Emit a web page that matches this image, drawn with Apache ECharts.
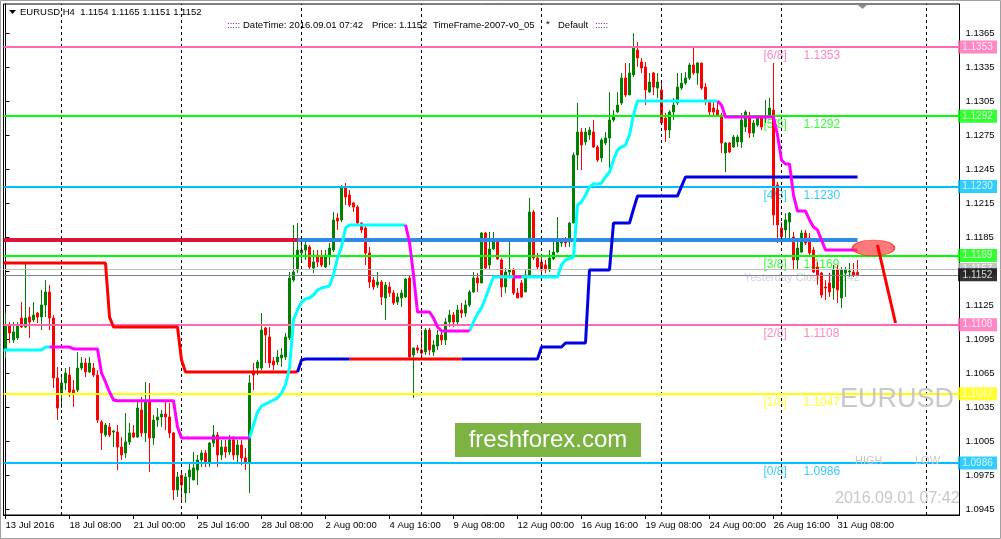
<!DOCTYPE html>
<html><head><meta charset="utf-8">
<script src="https://cdn.jsdelivr.net/npm/echarts@6/dist/echarts.min.js"></script>
<style>html,body{margin:0;padding:0;background:#fff}#c{width:1001px;height:539px}</style>
</head><body><div id="c"></div><script>
// ---------- DATA ----------
const BAR_COUNT = 239; // visible bar slots (incl. empty future area)
const timeLabels = ['13 Jul 2016','18 Jul 08:00','21 Jul 00:00','25 Jul 16:00','28 Jul 08:00','2 Aug 00:00','4 Aug 16:00','9 Aug 08:00','12 Aug 00:00','16 Aug 16:00','19 Aug 08:00','24 Aug 00:00','26 Aug 16:00','31 Aug 08:00'];
const TIME_LABEL_STEP = 16;
const priceTicks = [1.0945,1.0975,1.1005,1.1035,1.1065,1.1095,1.1125,1.1155,1.1185,1.1215,1.1245,1.1275,1.1305,1.1335,1.1365];
const weekSeparators = [14,44,74,104,134,164,194,230.25];

// candles: [open, close, low, high]
const candles = [
[1.10857,1.11077,1.10786,1.11183],[1.11069,1.11007,1.10919,1.11104],[1.10945,1.11016,1.10919,1.11104],[1.10963,1.11077,1.10945,1.11104],
[1.11139,1.11060,1.11051,1.11280],[1.11060,1.11139,1.11051,1.11624],[1.11148,1.11104,1.10963,1.11236],[1.11122,1.11166,1.11104,1.11280],
[1.11183,1.11148,1.11095,1.11192],[1.11148,1.11254,1.11033,1.11386],[1.11254,1.11369,1.11148,1.11474],[1.11369,1.11139,1.11033,1.11430],
[1.11139,1.10610,1.10522,1.11166],[1.10610,1.10345,1.10239,1.10707],[1.10478,1.10566,1.10345,1.10619],[1.10566,1.10654,1.10504,1.10698],
[1.10636,1.10486,1.10442,1.10707],[1.10504,1.10478,1.10354,1.10592],[1.10504,1.10698,1.10486,1.10839],[1.10698,1.10742,1.10680,1.10795],
[1.10742,1.10663,1.10619,1.10786],[1.10663,1.10742,1.10654,1.10795],[1.10698,1.10636,1.10619,1.10742],[1.10636,1.10239,1.10213,1.10680],
[1.10222,1.10125,1.09975,1.10239],[1.10107,1.10195,1.10089,1.10213],[1.10178,1.10107,1.10089,1.10213],[1.10133,1.10142,1.10001,1.10151],
[1.10133,1.10001,1.09798,1.10195],[1.10001,1.09931,1.09887,1.10089],[1.09948,1.10045,1.09904,1.10301],[1.10045,1.10125,1.10019,1.10213],
[1.10125,1.10089,1.10081,1.10195],[1.10089,1.10345,1.10081,1.10398],[1.10328,1.10125,1.10089,1.10442],[1.10125,1.10398,1.10045,1.10575],
[1.10398,1.10081,1.09781,1.10566],[1.10081,1.10239,1.10019,1.10283],[1.10239,1.10266,1.10178,1.10345],[1.10266,1.10292,1.10178,1.10328],
[1.10292,1.10266,1.10151,1.10416],[1.10266,1.10125,1.10081,1.10389],[1.10125,1.09622,1.09534,1.10133],[1.09622,1.09737,1.09560,1.09781],
[1.09754,1.09666,1.09534,1.09772],[1.09595,1.09737,1.09507,1.09772],[1.09737,1.09798,1.09595,1.09860],[1.09710,1.09816,1.09710,1.09957],
[1.09798,1.09887,1.09666,1.09931],[1.09887,1.09948,1.09825,1.09975],[1.09948,1.09860,1.09825,1.09975],[1.09860,1.10036,1.09825,1.10045],
[1.10036,1.10107,1.10001,1.10195],[1.10107,1.09931,1.09825,1.10133],[1.09931,1.10001,1.09887,1.10063],[1.10001,1.09957,1.09904,1.10063],
[1.09957,1.10063,1.09931,1.10107],[1.10063,1.09931,1.09887,1.10098],[1.09931,1.10019,1.09869,1.10063],[1.10019,1.09904,1.09842,1.10063],
[1.09904,1.09869,1.09798,1.09992],[1.09869,1.10566,1.09595,1.10636],[1.10663,1.10636,1.10504,1.10742],[1.10698,1.10751,1.10636,1.10769],
[1.10698,1.11033,1.10680,1.11183],[1.11051,1.10989,1.10742,1.11060],[1.10972,1.10742,1.10698,1.11060],[1.10760,1.10725,1.10680,1.10795],
[1.10751,1.10795,1.10725,1.10857],[1.10786,1.10813,1.10707,1.10875],[1.10795,1.10972,1.10769,1.11007],[1.10963,1.11492,1.10945,1.11545],
[1.11474,1.11545,1.11457,1.11960],[1.11563,1.11739,1.11536,1.11977],[1.11713,1.11739,1.11651,1.11827],[1.11739,1.11783,1.11651,1.11827],
[1.11766,1.11589,1.11563,1.11783],[1.11580,1.11633,1.11536,1.11739],[1.11695,1.11633,1.11589,1.11739],[1.11677,1.11607,1.11589,1.11739],
[1.11589,1.11695,1.11580,1.11739],[1.11695,1.11757,1.11607,1.11801],[1.11739,1.12004,1.11721,1.12074],[1.12021,1.11995,1.11916,1.12065],
[1.12004,1.12286,1.11986,1.12313],[1.12286,1.12207,1.12136,1.12330],[1.12224,1.12136,1.12118,1.12268],[1.12154,1.12118,1.12074,1.12163],
[1.12118,1.11977,1.11960,1.12136],[1.11977,1.11916,1.11889,1.11986],[1.11933,1.11713,1.11607,1.11960],[1.11713,1.11457,1.11404,1.11766],
[1.11474,1.11413,1.11386,1.11501],[1.11430,1.11457,1.11404,1.11545],[1.11457,1.11325,1.11254,1.11474],[1.11316,1.11430,1.11122,1.11457],
[1.11413,1.11360,1.11325,1.11457],[1.11360,1.11272,1.11254,1.11386],[1.11280,1.11325,1.11254,1.11360],[1.11316,1.11360,1.11236,1.11386],
[1.11325,1.11483,1.11316,1.11492],[1.11492,1.10795,1.10786,1.11519],[1.10813,1.10875,1.10433,1.10875],[1.10875,1.10857,1.10830,1.10901],
[1.10857,1.10830,1.10795,1.11033],[1.10839,1.11033,1.10813,1.11051],[1.11033,1.10857,1.10813,1.11051],[1.10839,1.10901,1.10804,1.10945],
[1.10892,1.10989,1.10857,1.11033],[1.10989,1.10945,1.10901,1.11033],[1.10945,1.11104,1.10901,1.11139],[1.11104,1.11166,1.11060,1.11210],
[1.11166,1.11104,1.11060,1.11192],[1.11104,1.11210,1.11077,1.11254],[1.11210,1.11183,1.11139,1.11272],[1.11183,1.11254,1.11148,1.11298],
[1.11254,1.11369,1.11236,1.11386],[1.11369,1.11492,1.11360,1.11545],[1.11492,1.11448,1.11369,1.11536],[1.11448,1.11889,1.11448,1.11898],
[1.11889,1.11580,1.11563,1.11898],[1.11607,1.11748,1.11563,1.11898],[1.11748,1.11827,1.11739,1.11898],[1.11810,1.11660,1.11651,1.11827],
[1.11651,1.11413,1.11325,1.11669],[1.11413,1.11545,1.11360,1.11580],[1.11545,1.11563,1.11501,1.11810],[1.11563,1.11360,1.11342,1.11580],
[1.11360,1.11316,1.11316,1.11404],[1.11448,1.11325,1.11316,1.11474],[1.11369,1.11519,1.11369,1.11563],[1.11519,1.12074,1.11501,1.12198],
[1.12074,1.11669,1.11651,1.12092],[1.11669,1.11589,1.11563,1.11713],[1.11633,1.11563,1.11536,1.11677],[1.11607,1.11563,1.11536,1.11651],
[1.11563,1.11669,1.11545,1.11739],[1.11660,1.11721,1.11651,1.11845],[1.11721,1.11810,1.11713,1.12030],[1.11801,1.11827,1.11766,1.11845],
[1.11819,1.11801,1.11766,1.11854],[1.11810,1.11977,1.11766,1.11986],[1.11977,1.12577,1.11977,1.12600],[1.12577,1.12780,1.12445,1.13037],
[1.12780,1.12665,1.12445,1.12815],[1.12692,1.12780,1.12665,1.12815],[1.12754,1.12798,1.12710,1.12824],[1.12780,1.12648,1.12639,1.12886],
[1.12648,1.12533,1.12515,1.12665],[1.12551,1.12710,1.12515,1.12727],[1.12683,1.12727,1.12665,1.12780],[1.12727,1.12886,1.12445,1.13131],
[1.12886,1.12930,1.12868,1.12974],[1.12957,1.13018,1.12948,1.13131],[1.13036,1.13256,1.13018,1.13301],[1.13256,1.13107,1.13089,1.13389],
[1.13107,1.13301,1.13107,1.13389],[1.13283,1.13521,1.13265,1.13653],[1.13503,1.13433,1.13354,1.13574],[1.13398,1.13345,1.13301,1.13433],
[1.13354,1.13151,1.13018,1.13398],[1.13133,1.13221,1.13124,1.13301],[1.13301,1.13177,1.13107,1.13309],[1.13168,1.13221,1.13080,1.13301],
[1.13151,1.12860,1.12842,1.13212],[1.12904,1.12798,1.12692,1.12948],[1.12798,1.12957,1.12727,1.12974],[1.12957,1.13018,1.12886,1.13080],
[1.13036,1.13177,1.13018,1.13301],[1.13168,1.13212,1.13151,1.13301],[1.13212,1.13256,1.13195,1.13309],[1.13256,1.13371,1.13239,1.13389],
[1.13371,1.13301,1.13283,1.13530],[1.13301,1.13389,1.13195,1.13398],[1.13389,1.13168,1.13151,1.13389],[1.13177,1.13045,1.13018,1.13212],
[1.13045,1.12957,1.12930,1.13062],[1.12992,1.12957,1.12930,1.13045],[1.12974,1.12930,1.12912,1.13036],[1.12930,1.12683,1.12595,1.12948],
[1.12595,1.12683,1.12427,1.12692],[1.12683,1.12604,1.12595,1.12692],[1.12648,1.12736,1.12639,1.12754],[1.12692,1.12736,1.12648,1.12754],
[1.12692,1.12886,1.12639,1.12948],[1.12824,1.12957,1.12780,1.12974],[1.12904,1.12771,1.12727,1.12957],[1.12771,1.12860,1.12736,1.12886],
[1.12842,1.12912,1.12824,1.12930],[1.12912,1.12824,1.12798,1.12930],[1.12904,1.12912,1.12860,1.13062],[1.12912,1.12992,1.12904,1.13080],
[1.12974,1.12048,1.11960,1.13389],[1.12313,1.11960,1.11801,1.12339],[1.11933,1.11854,1.11801,1.11986],[1.11916,1.12004,1.11845,1.12065],
[1.11986,1.12065,1.11827,1.12074],[1.11854,1.11651,1.11563,1.11898],[1.11651,1.11757,1.11563,1.11827],[1.11721,1.11889,1.11713,1.11916],
[1.11889,1.11801,1.11783,1.11916],[1.11845,1.11713,1.11677,1.11889],[1.11739,1.11545,1.11536,1.11766],[1.11589,1.11519,1.11430,1.11633],
[1.11536,1.11342,1.11316,1.11545],[1.11413,1.11404,1.11298,1.11474],[1.11448,1.11369,1.11325,1.11536],[1.11404,1.11563,1.11298,1.11607],
[1.11563,1.11386,1.11272,1.11607],[1.11316,1.11563,1.11227,1.11589],[1.11536,1.11563,1.11325,1.11589],[1.11545,1.11554,1.11501,1.11624],
[1.11545,1.11519,1.11501,1.11624],[1.1154,1.1152,1.1151,1.1165]
];

// Murrey math levels
const levelNames  = ['[6/8]','[5/8]','[4/8]','[3/8]','[2/8]','[1/8]','[0/8]'];
const levelPrices = [1.1353,1.1292,1.1230,1.1169,1.1108,1.1047,1.0986];
const levelLabelBar = 189.5;
const prevHighPrice = 1.1157;   // silver line
const currentPrice  = 1.1152;   // bid line
const yesterdayClose = 1.1142;
const yesterdayLabelPos = [213.5, 1.11492];

// trend level line (crimson -> dodger blue)
const trendLevelRed  = [[-0.5,1.11827],[73,1.11827]];
const trendLevelBlue = [[73,1.11827],[213,1.11827]];

// slow step line segments
const slowRed = [
  [[-0.5,1.11624],[25,1.11624],[26,1.11148],[27,1.11060],[43,1.11060],[44,1.10769],[45,1.10663],[73,1.10663]],
  [[86,1.10777],[114,1.10777]]
];
const slowBlue = [
  [[73,1.10663],[74,1.10769],[75,1.10777],[86,1.10777]],
  [[114,1.10777],[133,1.10777],[134,1.10883],[139,1.10883],[140,1.10919],[145,1.10919],[146,1.11563],[151,1.11563],[152,1.11977],[156,1.11977],[157,1.12100],[158,1.12216],[168,1.12216],[169,1.12300],[170,1.12383],[213,1.12383]]
];
// fast trailing line segments
const fastCyan = [
  [[-0.5,1.10857],[9,1.10857],[10,1.10883],[11,1.10883]],
  [[61,1.10081],[62,1.10195],[63,1.10310],[64,1.10363],[65,1.10380],[66,1.10398],[67,1.10416],[68,1.10433],[69,1.10478],[70,1.10548],[71,1.10698],[72,1.11122],[73,1.11210],[74,1.11280],[75,1.11307],[76,1.11316],[77,1.11342],[78,1.11386],[79,1.11404],[80,1.11413],[81,1.11421],[82,1.11519],[83,1.11669],[84,1.11766],[85,1.11933],[86,1.11960],[100,1.11960]],
  [[116,1.11025],[117,1.11104],[118,1.11175],[119,1.11227],[120,1.11316],[121,1.11413],[122,1.11501],[127,1.11501]],
  [[129,1.11501],[138,1.11501],[139,1.11607],[140,1.11651],[142,1.11677],[143,1.12136],[144,1.12163],[145,1.12224],[146,1.12295],[147,1.12321],[148,1.12321],[149,1.12330],[150,1.12383],[151,1.12427],[152,1.12533],[153,1.12621],[154,1.12648],[155,1.12665],[156,1.12754],[157,1.12930],[158,1.13054],[178,1.13054]]
];
const fastMagenta = [
  [[11,1.10883],[16,1.10883],[17,1.10866],[23,1.10866],[24,1.10654],[25,1.10575],[26,1.10486],[27,1.10416],[28,1.10410],[42,1.10410],[43,1.10178],[44,1.10081],[61,1.10081]],
  [[100,1.11960],[101,1.11810],[102,1.11519],[103,1.11192],[106,1.11192],[107,1.11139],[108,1.11060],[109,1.11025],[116,1.11025]],
  [[127,1.11501],[129,1.11501]],
  [[178,1.13054],[179,1.13018],[180,1.12912],[192,1.12912],[193,1.12754],[194,1.12533],[195,1.12498],[196,1.12498],[197,1.12224],[198,1.12083],[200,1.12083],[201,1.12004],[202,1.11942],[203,1.11916],[204,1.11827],[205,1.11739],[213,1.11739]]
];
// drawn objects: ellipse and forecast line
const ellipsePoint = [217, 1.11757];
const forecastLine = [[218, 1.11783],[222.5, 1.11095]];

// ---------- STYLE ----------
const FONT = 'Liberation Sans, Arial, sans-serif';
const levelColors = ['#ff69b4','#00ff00','#00bfff','#00ff00','#ff69b4','#ffff00','#00bfff'];
const Y_MIN = 1.094012, Y_MAX = 1.139094;
const RIGHT_EDGE = BAR_COUNT - 0.5;

const chart = echarts.init(document.getElementById('c'), null, {renderer:'canvas'});

const isLabelIdx = i => i % TIME_LABEL_STEP === 0 && (i / TIME_LABEL_STEP) < timeLabels.length;

function lineSeries(data, color, width, z){
  return {type:'line', xAxisIndex:1, yAxisIndex:0, data, symbol:'none', silent:true, z,
    lineStyle:{color, width}, itemStyle:{color}, animation:false};
}
function hLine(price, color, width, z){
  return {type:'line', xAxisIndex:1, data:[], z, silent:true,
    markLine:{silent:true, symbol:['none','none'], animation:false, precision:5, label:{show:false},
      lineStyle:{type:'solid', color, width}, data:[{yAxis:price}]}};
}
// price tags: rect symbol placed just right of the plot edge, value text inside
function priceTag(price, bg, z){
  return {type:'scatter', xAxisIndex:1, z, silent:true, clip:false,
    data:[[RIGHT_EDGE, price]], symbol:'rect', symbolSize:[39,13], symbolOffset:[18,0],
    itemStyle:{color:bg},
    label:{show:true, position:'inside', color:'#fff', fontSize:10, fontFamily:FONT,
      formatter: () => price.toFixed(4)}};
}

const series = [];
// weekly separators
series.push({type:'line', xAxisIndex:1, data:[], z:1, silent:true,
  markLine:{silent:true, symbol:['none','none'], animation:false, precision:3, label:{show:false},
    lineStyle:{color:'#000', type:[3,3], width:1},
    data: weekSeparators.map(v=>({xAxis:v}))}});
// level text labels
series.push({type:'scatter', xAxisIndex:1, z:2, silent:true, symbolSize:0,
  data: levelPrices.map((p,i)=>({value:[levelLabelBar,p],
    label:{color:levelColors[i], rich:{a:{color:levelColors[i]}, b:{color:levelColors[i]}}}})),
  label:{show:true, position:'right', distance:0, offset:[0,9],
    formatter: p => '{a|' + levelNames[p.dataIndex] + '}{b|' + levelPrices[p.dataIndex].toFixed(4) + '}',
    rich:{a:{width:40, fontSize:12, fontFamily:FONT}, b:{fontSize:12, fontFamily:FONT}}},
  itemStyle:{color:'transparent'}});
// yesterday close text
series.push({type:'scatter', xAxisIndex:1, z:2, silent:true, symbolSize:0,
  data:[yesterdayLabelPos],
  label:{show:true, position:'left', distance:0, color:'#c4c4c4', fontSize:11, fontFamily:FONT,
    formatter:'Yesterday Close ' + yesterdayClose.toFixed(4)}});
// candles
series.push({type:'candlestick', xAxisIndex:0, yAxisIndex:0, data:candles, barWidth:2, z:3, silent:true,
  itemStyle:{color:'#008000', color0:'#ff0000', borderColor:'#008000', borderColor0:'#ff0000', borderWidth:1}});
// horizontal lines
levelPrices.forEach((p,i)=>series.push(hLine(p, levelColors[i], 2, 4)));
series.push(hLine(prevHighPrice, '#c0c0c0', 1, 4));
series.push(hLine(currentPrice, '#778899', 1, 4));
// trend level
series.push(lineSeries(trendLevelRed, '#dc143c', 4, 4));
series.push(lineSeries(trendLevelBlue, '#2e8ae6', 4, 4));
slowRed.forEach(s=>series.push(lineSeries(s,'#ff0000',3,5)));
slowBlue.forEach(s=>series.push(lineSeries(s,'#0000e6',3,5)));
fastCyan.forEach(s=>series.push(lineSeries(s,'#00ffff',3,5)));
fastMagenta.forEach(s=>series.push(lineSeries(s,'#ff00ff',3,5)));
// ellipse + forecast
series.push({type:'scatter', xAxisIndex:1, z:6, silent:true, data:[ellipsePoint], symbol:'circle', symbolSize:[42,16],
  itemStyle:{color:'rgba(255,60,60,0.85)', borderColor:'#ff2020', borderWidth:1}});
series.push(lineSeries(forecastLine, '#ff0000', 3, 7));
// price tags on the right axis
levelPrices.forEach((p,i)=>series.push(priceTag(p, levelColors[i], 8)));
series.push(priceTag(prevHighPrice, '#b8b8b8', 8));
series.push(priceTag(currentPrice, '#000000', 9));

const txt = (x,y,text,opt={}) => ({type:'text', x, y, silent:true, z:100,
  style:Object.assign({text, fill:'#000', font:'9.5px ' + FONT, textVerticalAlign:'middle'}, opt)});

const option = {
  animation:false,
  backgroundColor:'#ffffff',
  grid:{left:3.5, top:4, right:41.5, bottom:24, show:true, borderColor:'#000', borderWidth:1, backgroundColor:'#fff'},
  xAxis:[
    {type:'category', data:Array.from({length:BAR_COUNT},(_,i)=>String(i)), boundaryGap:true,
      axisLine:{show:true, lineStyle:{color:'#000'}},
      axisTick:{show:true, alignWithLabel:true, interval:(i)=>isLabelIdx(i), length:4, lineStyle:{color:'#000'}},
      axisLabel:{show:true, interval:(i)=>isLabelIdx(i), formatter:(v,i)=>timeLabels[i/TIME_LABEL_STEP] || '',
        align:'left', margin:5, fontSize:9.5, fontFamily:FONT, color:'#000', hideOverlap:false},
      splitLine:{show:false}},
    {type:'value', min:-0.5, max:RIGHT_EDGE, show:false}
  ],
  yAxis:[{type:'value', position:'right', min:Y_MIN, max:Y_MAX,
    axisLine:{show:true, lineStyle:{color:'#000'}},
    axisTick:{show:true, length:4, customValues:priceTicks, lineStyle:{color:'#000'}},
    axisLabel:{show:true, customValues:priceTicks, formatter:v=>Number(v).toFixed(4), margin:6, fontSize:9.5, fontFamily:FONT, color:'#000'},
    splitLine:{show:false}}],
  series,
  graphic:[
    {type:'rect', shape:{x:0.5,y:0.5,width:1000,height:538}, style:{fill:'none', stroke:'#a0a0a0', lineWidth:1}, silent:true, z:100},
    {type:'polygon', shape:{points:[[9,10],[16,10],[12.5,14]]}, style:{fill:'#000'}, silent:true, z:100},
    txt(20,12,'EURUSD,H4  1.1154 1.1165 1.1151 1.1152'),
    txt(227,25,':::::',{fill:'#800080'}),
    txt(243,25,'DateTime: 2016.09.01 07:42'),
    txt(372,25,'Price: 1.1152'),
    txt(433,25,'TimeFrame-2007-v0_05'),
    txt(546,24,'*'),
    txt(558,25,'Default'),
    txt(595,25,':::::',{fill:'#800080'}),
    {type:'polygon', shape:{points:[[858,5],[867,5],[862.5,9]]}, style:{fill:'#8090a0'}, silent:true, z:100},
    txt(840,400,'EURUSD',{fill:'#c8c8c8', font:'27px ' + FONT}),
    txt(855,461,'HIGH',{fill:'#c8c8c8', font:'11px ' + FONT}),
    txt(915,461,'LOW',{fill:'#c8c8c8', font:'11px ' + FONT}),
    txt(835,499,'2016.09.01 07:42',{fill:'#c8c8c8', font:'16px ' + FONT}),
    {type:'rect', shape:{x:455,y:423,width:186,height:34}, style:{fill:'#7cb342'}, silent:true, z:100},
    txt(548,440,'freshforex.com',{fill:'#fff', font:'24px ' + FONT, textAlign:'center'})
  ]
};
chart.setOption(option);
</script></body></html>
